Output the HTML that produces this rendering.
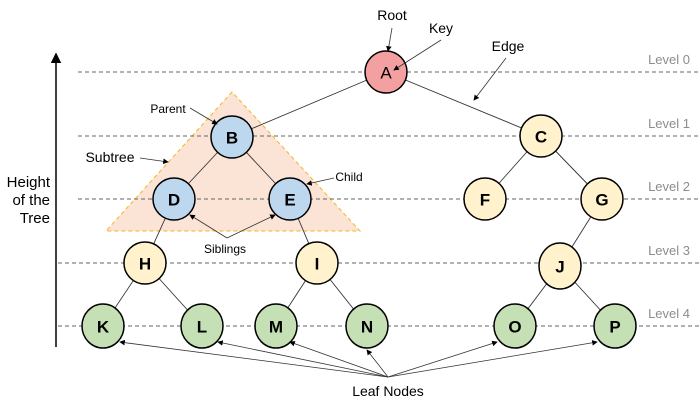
<!DOCTYPE html>
<html><head><meta charset="utf-8"><style>
html,body{margin:0;padding:0;background:#fff;}
svg{display:block;font-family:"Liberation Sans",sans-serif;}
.n{stroke:#000;stroke-width:1.5;}
.t{font-weight:bold;font-size:17px;text-anchor:middle;dominant-baseline:central;}
.lv{fill:#8c8c8c;font-size:13px;text-anchor:end;}
.lb{font-size:12px;}
.e{stroke:#333;stroke-width:0.9;}
</style></head><body>
<svg width="700" height="408" viewBox="0 0 700 408">
<defs><marker id="ar" markerWidth="7" markerHeight="7" refX="6" refY="3.5" orient="auto"><path d="M0,0 L7,3.5 L0,7z" fill="#000"/></marker></defs>
<polygon points="232,92 106,231 360,231" fill="#fbe3d6" stroke="#f5b520" stroke-dasharray="4,3" stroke-width="1"/>
<g stroke="#666" stroke-dasharray="4,3" stroke-width="1">
<line x1="78" y1="72" x2="700" y2="72"/><line x1="78" y1="136" x2="700" y2="136"/>
<line x1="78" y1="199" x2="700" y2="199"/><line x1="58" y1="263" x2="700" y2="263"/>
<line x1="58" y1="326" x2="700" y2="326"/></g>
<g class="lv"><text x="690" y="64">Level 0</text><text x="690" y="128">Level 1</text><text x="690" y="191">Level 2</text><text x="690" y="255">Level 3</text><text x="690" y="318">Level 4</text></g>
<line x1="56" y1="347" x2="56" y2="54" stroke="#000" stroke-width="1.5" marker-end="url(#ar)"/>
<g font-size="15" text-anchor="end"><text x="50" y="187">Height</text><text x="50" y="205">of the</text><text x="50" y="223">Tree</text></g>
<g class="e">
<line x1="386" y1="72" x2="232" y2="137"/><line x1="386" y1="72" x2="541" y2="136"/>
<line x1="232" y1="137" x2="174" y2="199"/><line x1="232" y1="137" x2="290" y2="199"/>
<line x1="541" y1="136" x2="485" y2="199"/><line x1="541" y1="136" x2="602" y2="199"/>
<line x1="174" y1="199" x2="145" y2="263"/><line x1="290" y1="199" x2="317" y2="263"/>
<line x1="602" y1="199" x2="560" y2="266"/>
<line x1="145" y1="263" x2="103" y2="326"/><line x1="145" y1="263" x2="202" y2="326"/>
<line x1="317" y1="263" x2="276" y2="326"/><line x1="317" y1="263" x2="367" y2="326"/>
<line x1="560" y1="266" x2="515" y2="326"/><line x1="560" y1="266" x2="615" y2="326"/>
</g>
<circle class="n" cx="386" cy="72" r="21" fill="#f4a0a0"/>
<g fill="#bdd7ee"><circle class="n" cx="232" cy="137" r="21"/><circle class="n" cx="174" cy="199" r="21"/><circle class="n" cx="290" cy="199" r="21"/></g>
<g fill="#fff2cc"><circle class="n" cx="541" cy="136" r="21"/><circle class="n" cx="485" cy="199" r="21"/><circle class="n" cx="602" cy="199" r="21"/><circle class="n" cx="145" cy="263" r="21"/><circle class="n" cx="317" cy="263" r="21"/><ellipse class="n" cx="560" cy="266" rx="21" ry="23"/></g>
<g fill="#c5e0b4"><ellipse class="n" cx="103" cy="326" rx="21" ry="22"/><ellipse class="n" cx="202" cy="326" rx="21" ry="22"/><ellipse class="n" cx="276" cy="326" rx="21" ry="22"/><ellipse class="n" cx="367" cy="326" rx="21" ry="22"/><ellipse class="n" cx="515" cy="326" rx="21" ry="22"/><ellipse class="n" cx="615" cy="326" rx="21" ry="22"/></g>
<text class="t" x="386" y="73" font-weight="normal" style="font-weight:normal">A</text>
<g class="t"><text x="232" y="138">B</text><text x="541" y="137">C</text><text x="174" y="200">D</text><text x="290" y="200">E</text><text x="485" y="200">F</text><text x="602" y="200">G</text><text x="145" y="264">H</text><text x="317" y="264">I</text><text x="560" y="267">J</text><text x="103" y="327">K</text><text x="202" y="327">L</text><text x="276" y="327">M</text><text x="367" y="327">N</text><text x="515" y="327">O</text><text x="615" y="327">P</text></g>
<g stroke="#333" stroke-width="0.8" marker-end="url(#ar)" fill="none">
<line x1="392" y1="28" x2="388" y2="51"/><line x1="441" y1="40" x2="394" y2="70"/>
<line x1="506" y1="58" x2="474" y2="100"/><line x1="190" y1="108" x2="217" y2="124"/>
<line x1="140" y1="158" x2="168" y2="162"/><line x1="334" y1="178" x2="307" y2="184"/>
<line x1="227" y1="238" x2="190" y2="215"/><line x1="227" y1="238" x2="275" y2="215"/>
<line x1="388" y1="377" x2="120" y2="342"/><line x1="388" y1="377" x2="218" y2="342"/>
<line x1="388" y1="377" x2="290" y2="342"/><line x1="388" y1="377" x2="367" y2="350"/>
<line x1="388" y1="377" x2="497" y2="342"/><line x1="388" y1="377" x2="597" y2="342"/>
</g>
<g font-size="14" text-anchor="middle"><text x="392" y="20">Root</text><text x="441" y="33">Key</text><text x="508" y="51">Edge</text><text x="388" y="396">Leaf Nodes</text><text x="110" y="162">Subtree</text></g>
<g class="lb" text-anchor="middle"><text x="168" y="113">Parent</text><text x="349" y="181">Child</text><text x="225" y="253">Siblings</text></g>
</svg>
</body></html>
